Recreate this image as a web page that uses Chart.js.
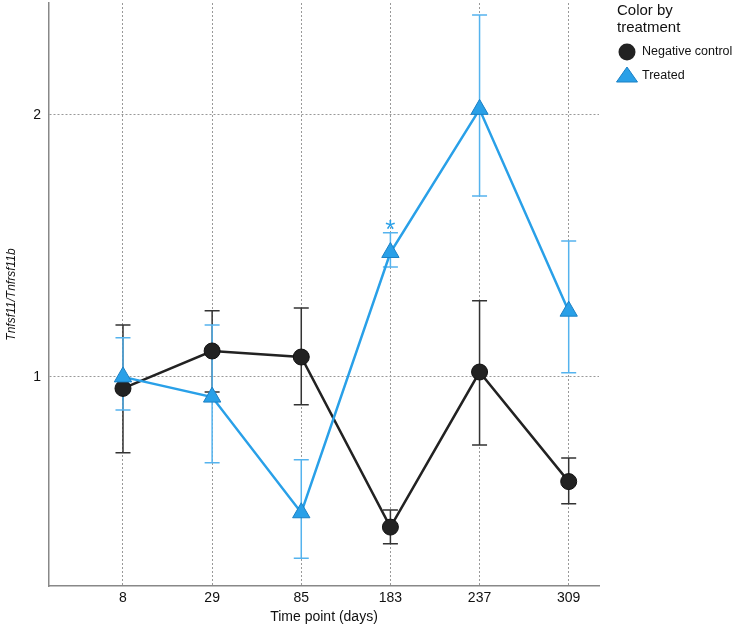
<!DOCTYPE html>
<html>
<head>
<meta charset="utf-8">
<script src="https://cdn.jsdelivr.net/npm/chart.js@4/dist/chart.umd.min.js"></script>
<style>
  html, body { margin: 0; padding: 0; background: #fff; }
</style>
</head>
<body>
<canvas id="chart" width="734" height="627"></canvas>
<script>
const timePoints = ['8', '29', '85', '183', '237', '309'];
const yTicks = [1, 2];

const controlMean = [0.970, 1.071, 1.054, 0.672, 1.013, 0.758];
const controlLow  = [0.818, 0.961, 0.929, 0.643, 0.835, 0.715];
const controlHigh = [1.147, 1.191, 1.200, 0.703, 1.223, 0.807];

const treatedMean = [1.000, 0.948, 0.698, 1.390, 2.030, 1.190];
const treatedLow  = [0.916, 0.797, 0.619, 1.338, 1.614, 1.011];
const treatedHigh = [1.109, 1.147, 0.803, 1.464, 2.606, 1.433];

const treatedSig = ['', '', '', '*', '', ''];

const black = '#222222';
const blue = '#29a0e8';
const font = "'Liberation Sans', Arial, sans-serif";

const toPoints = arr => arr.map((v, i) => ({ x: i, y: v }));

// error bars, drawn under lines and markers
const errorBars = {
    id: 'errorBars',
    beforeDatasetsDraw(chart) {
        const { ctx, scales: { x, y } } = chart;
        chart.data.datasets.forEach(ds => {
            ctx.save();
            ctx.strokeStyle = ds.errColor;
            ctx.lineWidth = 1.5;
            ds.errLow.forEach((lo, j) => {
                const px = x.getPixelForValue(j);
                const top = y.getPixelForValue(ds.errHigh[j]);
                const bot = y.getPixelForValue(lo);
                ctx.beginPath();
                ctx.moveTo(px, top); ctx.lineTo(px, bot);
                ctx.moveTo(px - 7.5, top); ctx.lineTo(px + 7.5, top);
                ctx.moveTo(px - 7.5, bot); ctx.lineTo(px + 7.5, bot);
                ctx.stroke();
            });
            ctx.restore();
        });
    },
    afterDatasetsDraw(chart) {
        const { ctx, scales: { x, y } } = chart;
        ctx.save();
        ctx.fillStyle = blue;
        ctx.font = '26px ' + font;
        ctx.textAlign = 'center';
        ctx.textBaseline = 'alphabetic';
        treatedSig.forEach((s, j) => {
            if (!s) return;
            ctx.fillText(s, x.getPixelForValue(j), y.getPixelForValue(treatedHigh[j]) + 5);
        });
        ctx.restore();
    }
};

// legend on the right
const sideLegend = {
    id: 'sideLegend',
    afterDraw(chart) {
        const ctx = chart.ctx;
        ctx.save();
        ctx.fillStyle = '#111';
        ctx.textBaseline = 'middle';
        ctx.font = '15px ' + font;
        ctx.fillText('Color by', 617, 11);
        ctx.fillText('treatment', 617, 28);

        ctx.fillStyle = black;
        ctx.beginPath();
        ctx.arc(627, 52, 8.5, 0, Math.PI * 2);
        ctx.fill();

        ctx.fillStyle = blue;
        ctx.strokeStyle = '#1b80c4';
        ctx.lineWidth = 1;
        ctx.beginPath();
        ctx.moveTo(627, 67);
        ctx.lineTo(637.5, 82);
        ctx.lineTo(616.5, 82);
        ctx.closePath();
        ctx.fill();
        ctx.stroke();

        ctx.fillStyle = '#111';
        ctx.font = '12.5px ' + font;
        ctx.fillText('Negative control', 642, 52);
        ctx.fillText('Treated', 642, 76);
        ctx.restore();
    }
};

new Chart(document.getElementById('chart'), {
    type: 'line',
    data: {
        datasets: [{
            label: 'Negative control',
            data: toPoints(controlMean),
            errLow: controlLow,
            errHigh: controlHigh,
            errColor: '#333333',
            borderColor: black,
            borderWidth: 2.5,
            pointStyle: 'circle',
            pointRadius: 8,
            pointBackgroundColor: black,
            pointBorderColor: '#111',
            pointBorderWidth: 1,
            order: 1
        }, {
            label: 'Treated',
            data: toPoints(treatedMean),
            errLow: treatedLow,
            errHigh: treatedHigh,
            errColor: '#55b3ee',
            borderColor: blue,
            borderWidth: 2.5,
            pointStyle: 'triangle',
            pointRadius: 10,
            pointBackgroundColor: blue,
            pointBorderColor: '#1b80c4',
            pointBorderWidth: 1,
            order: 0
        }]
    },
    options: {
        responsive: false,
        animation: false,
        layout: { autoPadding: false, padding: { top: 3, right: 135, bottom: 0, left: 0 } },
        plugins: {
            legend: { display: false },
            tooltip: { enabled: false }
        },
        scales: {
            x: {
                type: 'linear',
                min: -0.83,
                max: 5.34,
                afterBuildTicks: s => { s.ticks = timePoints.map((_, i) => ({ value: i })); },
                afterFit: s => { s.height = 41; s.paddingLeft = 0; s.paddingRight = 0; },
                ticks: {
                    callback: v => timePoints[v],
                    color: '#111',
                    font: { family: font, size: 14 },
                    padding: 4
                },
                grid: { color: '#999', lineWidth: 1, drawTicks: false },
                border: { display: true, color: '#888', width: 1.5, dash: [2, 2] },
                title: {
                    display: true,
                    text: 'Time point (days)',
                    color: '#111',
                    font: { family: font, size: 14 },
                    padding: { top: 0, bottom: 1 }
                }
            },
            y: {
                type: 'logarithmic',
                min: 0.575,
                max: 2.69,
                afterBuildTicks: s => { s.ticks = yTicks.map(v => ({ value: v })); },
                afterFit: s => { s.width = 49; s.paddingTop = 0; s.paddingBottom = 0; },
                ticks: {
                    callback: v => String(v),
                    color: '#111',
                    font: { family: font, size: 14 },
                    padding: 8
                },
                grid: { color: '#999', lineWidth: 1, drawTicks: false },
                border: { display: true, color: '#888', width: 1.5, dash: [2, 2] },
                title: {
                    display: true,
                    text: 'Tnfsf11/Tnfrsf11b',
                    color: '#111',
                    font: { family: font, size: 12, style: 'italic' },
                    padding: { top: 4, bottom: 0 }
                }
            }
        }
    },
    plugins: [errorBars, sideLegend]
});
</script>
</body>
</html>
